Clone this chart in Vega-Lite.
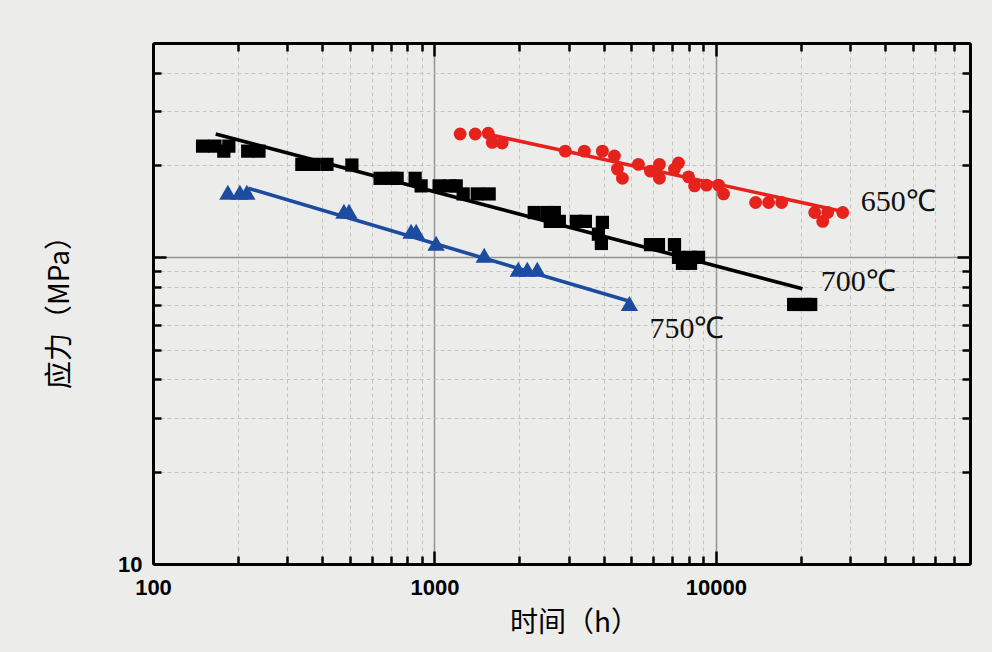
{
  "$schema": "https://vega.github.io/schema/vega-lite/v6.json",
  "width": 817,
  "height": 521,
  "autosize": {"type": "none"},
  "padding": {"left": 153, "top": 43, "right": 22, "bottom": 88},
  "background": "#ecedeb",
  "config": {"view": {"stroke": null, "fill": "#ecedeb"}},
  "resolve": {"axis": {"x": "independent", "y": "independent"}},
  "datasets": {
    "pts": [
      {"series": "650℃", "t": 1234, "s": 252.5},
      {"series": "650℃", "t": 1396, "s": 252.5},
      {"series": "650℃", "t": 1553, "s": 254},
      {"series": "650℃", "t": 1605, "s": 237},
      {"series": "650℃", "t": 1741, "s": 236},
      {"series": "650℃", "t": 2918, "s": 222},
      {"series": "650℃", "t": 3410, "s": 222},
      {"series": "650℃", "t": 3953, "s": 222},
      {"series": "650℃", "t": 4361, "s": 214},
      {"series": "650℃", "t": 4470, "s": 194},
      {"series": "650℃", "t": 4656, "s": 181},
      {"series": "650℃", "t": 5307, "s": 201},
      {"series": "650℃", "t": 5857, "s": 191},
      {"series": "650℃", "t": 6303, "s": 201},
      {"series": "650℃", "t": 6303, "s": 181},
      {"series": "650℃", "t": 7367, "s": 203},
      {"series": "650℃", "t": 7129, "s": 194},
      {"series": "650℃", "t": 8000, "s": 183},
      {"series": "650℃", "t": 8401, "s": 171},
      {"series": "650℃", "t": 9266, "s": 172},
      {"series": "650℃", "t": 10223, "s": 172},
      {"series": "650℃", "t": 10650, "s": 161},
      {"series": "650℃", "t": 13843, "s": 151},
      {"series": "650℃", "t": 15397, "s": 151},
      {"series": "650℃", "t": 17130, "s": 151},
      {"series": "650℃", "t": 22450, "s": 140},
      {"series": "650℃", "t": 23970, "s": 131},
      {"series": "650℃", "t": 24970, "s": 140},
      {"series": "650℃", "t": 28240, "s": 140},
      {"series": "700℃", "t": 150, "s": 230.5},
      {"series": "700℃", "t": 166, "s": 230.5},
      {"series": "700℃", "t": 186, "s": 230.5},
      {"series": "700℃", "t": 178.5, "s": 222},
      {"series": "700℃", "t": 217, "s": 222},
      {"series": "700℃", "t": 238, "s": 222},
      {"series": "700℃", "t": 338, "s": 201},
      {"series": "700℃", "t": 373, "s": 201},
      {"series": "700℃", "t": 415, "s": 201},
      {"series": "700℃", "t": 509, "s": 200},
      {"series": "700℃", "t": 641, "s": 181},
      {"series": "700℃", "t": 707, "s": 181},
      {"series": "700℃", "t": 737, "s": 181},
      {"series": "700℃", "t": 854, "s": 181},
      {"series": "700℃", "t": 897, "s": 171},
      {"series": "700℃", "t": 1039, "s": 171},
      {"series": "700℃", "t": 1137, "s": 171},
      {"series": "700℃", "t": 1195, "s": 171},
      {"series": "700℃", "t": 1265, "s": 161},
      {"series": "700℃", "t": 1419, "s": 161},
      {"series": "700℃", "t": 1565, "s": 161},
      {"series": "700℃", "t": 2263, "s": 140},
      {"series": "700℃", "t": 2518, "s": 140},
      {"series": "700℃", "t": 2667, "s": 140},
      {"series": "700℃", "t": 2580, "s": 131},
      {"series": "700℃", "t": 2779, "s": 131},
      {"series": "700℃", "t": 3193, "s": 131},
      {"series": "700℃", "t": 3439, "s": 131},
      {"series": "700℃", "t": 3953, "s": 130},
      {"series": "700℃", "t": 3825, "s": 119},
      {"series": "700℃", "t": 3920, "s": 111},
      {"series": "700℃", "t": 5857, "s": 110},
      {"series": "700℃", "t": 6253, "s": 110},
      {"series": "700℃", "t": 7129, "s": 110},
      {"series": "700℃", "t": 7367, "s": 100},
      {"series": "700℃", "t": 8128, "s": 100},
      {"series": "700℃", "t": 8679, "s": 100},
      {"series": "700℃", "t": 7612, "s": 95.6},
      {"series": "700℃", "t": 8128, "s": 95.6},
      {"series": "700℃", "t": 18900, "s": 70.2},
      {"series": "700℃", "t": 20860, "s": 70.2},
      {"series": "700℃", "t": 21730, "s": 70.2},
      {"series": "750℃", "t": 184.5, "s": 163},
      {"series": "750℃", "t": 203.5, "s": 163},
      {"series": "750℃", "t": 215.5, "s": 163},
      {"series": "750℃", "t": 477, "s": 141.4},
      {"series": "750℃", "t": 497, "s": 141.4},
      {"series": "750℃", "t": 826, "s": 121.6},
      {"series": "750℃", "t": 861, "s": 121.6},
      {"series": "750℃", "t": 1014, "s": 111.1},
      {"series": "750℃", "t": 1503, "s": 101.5},
      {"series": "750℃", "t": 1986, "s": 91.4},
      {"series": "750℃", "t": 2138, "s": 91.4},
      {"series": "750℃", "t": 2320, "s": 91.4},
      {"series": "750℃", "t": 4931, "s": 70.7}
    ],
    "fit": [
      {"series": "650℃", "t": 1550, "s": 252},
      {"series": "650℃", "t": 28240, "s": 141.2},
      {"series": "700℃", "t": 167, "s": 252.5},
      {"series": "700℃", "t": 20300, "s": 79},
      {"series": "750℃", "t": 218, "s": 168},
      {"series": "750℃", "t": 4900, "s": 72}
    ],
    "lab": [
      {"series": "650℃", "t": 32700, "s": 151.3},
      {"series": "700℃", "t": 23590, "s": 82.9},
      {"series": "750℃", "t": 5807, "s": 58.6}
    ]
  },
  "layer": [
    {
      "data": {"name": "fit"},
      "mark": {"type": "line", "strokeWidth": 3.6},
      "encoding": {
        "x": {
          "field": "t", "type": "quantitative",
          "scale": {"type": "log", "domain": [100, 80000], "nice": false},
          "axis": {
            "orient": "top",
            "values": [100,200,300,400,500,600,700,800,900,1000,2000,3000,4000,5000,6000,7000,8000,9000,10000,20000,30000,40000,50000,60000,70000,80000],
            "labels": false, "grid": false, "title": null,
            "tickSize": {"condition": {"test": "datum.value==1000||datum.value==10000", "value": -13}, "value": -8},
            "tickWidth": 2.5, "tickColor": "black",
            "domainColor": "black", "domainWidth": 3
          }
        },
        "y": {
          "field": "s", "type": "quantitative",
          "scale": {"type": "log", "domain": [10, 500], "nice": false},
          "axis": {
            "orient": "right",
            "values": [10,20,30,40,50,60,70,80,90,100,200,300,400,500],
            "labels": false, "grid": false, "title": null,
            "tickSize": {"condition": {"test": "datum.value==100", "value": -13}, "value": -8},
            "tickWidth": 2.5, "tickColor": "black",
            "domainColor": "black", "domainWidth": 3
          }
        },
        "color": {
          "field": "series", "type": "nominal",
          "scale": {"domain": ["650℃", "700℃", "750℃"], "range": ["#e6221d", "#000000", "#1c4ba0"]},
          "legend": null
        }
      }
    },
    {
      "data": {"name": "pts"},
      "mark": {"type": "point", "filled": true, "opacity": 1},
      "encoding": {
        "x": {
          "field": "t", "type": "quantitative",
          "scale": {"type": "log", "domain": [100, 80000], "nice": false},
          "axis": {
            "orient": "bottom",
            "values": [100,200,300,400,500,600,700,800,900,1000,2000,3000,4000,5000,6000,7000,8000,9000,10000,20000,30000,40000,50000,60000,70000,80000],
            "format": "d",
            "labelExpr": "(datum.value==100||datum.value==1000||datum.value==10000) ? datum.label : ''",
            "labelOverlap": false, "labelFlush": false, "labelBound": false,
            "labelFont": "Liberation Sans", "labelFontWeight": "bold", "labelFontSize": 22, "labelColor": "black",
            "labelPadding": 26,
            "grid": true,
            "gridColor": {"condition": {"test": "datum.value==1000||datum.value==10000", "value": "#939393"}, "value": "#c4c4c4"},
            "gridDash": {"condition": {"test": "datum.value==1000||datum.value==10000", "value": []}, "value": [4, 3]},
            "gridWidth": {"condition": {"test": "datum.value==1000||datum.value==10000", "value": 1.5}, "value": 1},
            "tickSize": {"condition": {"test": "datum.value==100||datum.value==1000||datum.value==10000", "value": -13}, "value": -8},
            "tickWidth": 2.5, "tickColor": "black",
            "domainColor": "black", "domainWidth": 3,
            "title": "时间（h）",
            "titleFont": "Noto Sans CJK SC", "titleFontSize": 28, "titleFontWeight": "normal", "titleColor": "black",
            "titleX": 421, "titleY": 59, "titleBaseline": "middle", "titleAlign": "center"
          }
        },
        "y": {
          "field": "s", "type": "quantitative",
          "scale": {"type": "log", "domain": [10, 500], "nice": false},
          "axis": {
            "orient": "left",
            "values": [10,20,30,40,50,60,70,80,90,100,200,300,400,500],
            "format": "d",
            "labelExpr": "datum.value==10 ? datum.label : ''",
            "labelOverlap": false, "labelFlush": false, "labelBound": false,
            "labelFont": "Liberation Sans", "labelFontWeight": "bold", "labelFontSize": 22, "labelColor": "black",
            "labelPadding": 24,
            "grid": true,
            "gridColor": {"condition": {"test": "datum.value==100", "value": "#939393"}, "value": "#c4c4c4"},
            "gridDash": {"condition": {"test": "datum.value==100", "value": []}, "value": [4, 3]},
            "gridWidth": {"condition": {"test": "datum.value==100", "value": 1.5}, "value": 1},
            "tickSize": {"condition": {"test": "datum.value==10||datum.value==100", "value": -13}, "value": -8},
            "tickWidth": 2.5, "tickColor": "black",
            "domainColor": "black", "domainWidth": 3,
            "title": "应力（MPa）",
            "titleFont": "Noto Sans CJK SC", "titleFontSize": 28, "titleFontWeight": "normal", "titleColor": "black",
            "titleX": -93, "titleY": 262, "titleBaseline": "middle", "titleAlign": "center", "titleAngle": -90
          }
        },
        "color": {"field": "series", "type": "nominal", "legend": null},
        "shape": {
          "field": "series", "type": "nominal",
          "scale": {"domain": ["650℃", "700℃", "750℃"], "range": ["circle", "square", "triangle-up"]},
          "legend": null
        },
        "size": {
          "field": "series", "type": "nominal",
          "scale": {"type": "ordinal", "domain": ["650℃", "700℃", "750℃"], "range": [165, 175, 300]},
          "legend": null
        }
      }
    },
    {
      "data": {"name": "lab"},
      "mark": {"type": "text", "align": "left", "baseline": "middle", "font": "Liberation Serif", "fontSize": 30, "color": "#111111"},
      "encoding": {
        "x": {"field": "t", "type": "quantitative", "scale": {"type": "log", "domain": [100, 80000], "nice": false}, "axis": null},
        "y": {"field": "s", "type": "quantitative", "scale": {"type": "log", "domain": [10, 500], "nice": false}, "axis": null},
        "text": {"field": "series"}
      }
    }
  ]
}
